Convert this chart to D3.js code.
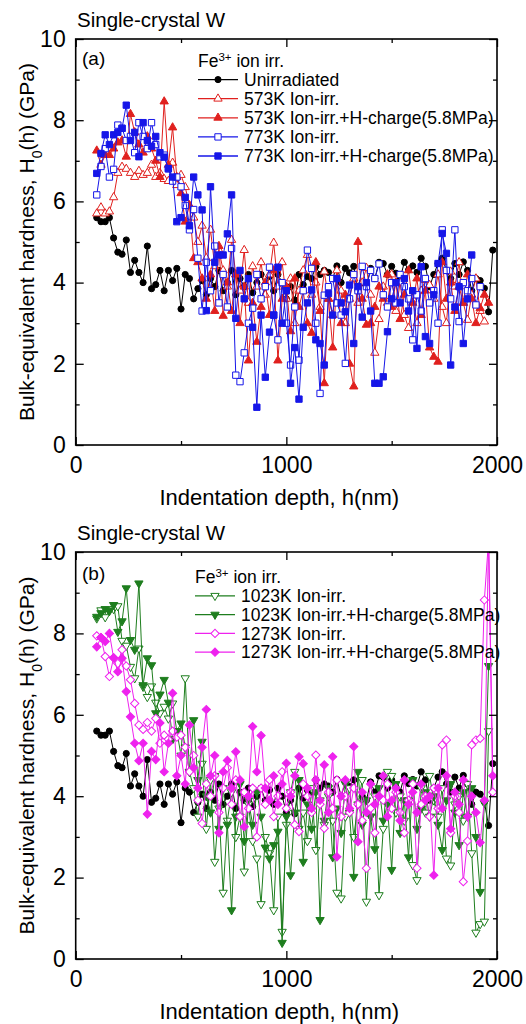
<!DOCTYPE html>
<html>
<head>
<meta charset="utf-8">
<script src="https://cdn.jsdelivr.net/npm/d3@7"></script>
<style>
  body { margin: 0; background: #fff; }
  svg { display: block; }
  text { font-family: "Liberation Sans", Arial, sans-serif; fill: #000; }
</style>
</head>
<body>
<div id="chart"></div>
<script>
// indentation depth (nm), shared by every series
const depth = [
  100, 120, 140, 160, 180, 200, 220, 240, 260, 280,
  300, 320, 340, 360, 380, 400, 420, 440, 460, 480,
  500, 520, 540, 560, 580, 600, 620, 640, 660, 680,
  700, 720, 740, 760, 780, 800, 820, 840, 860, 880,
  900, 920, 940, 960, 980, 1000, 1020, 1040, 1060, 1080,
  1100, 1120, 1140, 1160, 1180, 1200, 1220, 1240, 1260, 1280,
  1300, 1320, 1340, 1360, 1380, 1400, 1420, 1440, 1460, 1480,
  1500, 1520, 1540, 1560, 1580, 1600, 1620, 1640, 1660, 1680,
  1700, 1720, 1740, 1760, 1780, 1800, 1820, 1840, 1860, 1880,
  1900, 1920, 1940, 1960, 1980
];

// hardness H0(h) in GPa
const unirr = [
  5.6, 5.5, 5.5, 5.6, 5.1, 4.75, 4.7, 5.05, 4.25, 4.55,
  4.25, 4.0, 4.9, 3.85, 3.95, 4.3, 3.8, 4.3, 4.05, 4.35,
  3.35, 4.2, 4.1, 3.6, 3.85, 4.05, 3.7, 4.1, 3.9, 4.3,
  3.8, 4.0, 4.3, 3.7, 4.1, 3.9, 4.2, 3.75, 4.0, 4.2,
  3.9, 4.15, 3.8, 4.2, 4.0, 3.6, 3.9, 3.57, 4.2, 3.95,
  4.15, 4.1, 4.4, 4.2, 4.3, 4.25, 4.1, 4.41, 4.0, 4.35,
  4.24, 4.4, 3.8, 4.0, 3.9, 4.35, 4.1, 4.5, 4.47, 4.2,
  4.4, 4.23, 4.1, 4.5, 4.31, 4.41, 4.25, 4.6, 4.4, 3.9,
  4.2, 4.47, 4.6, 4.3, 4.1, 4.47, 4.2, 4.51, 4.3, 3.8,
  4.1, 4.05, 3.86, 3.28, 4.8
];
const irr573 = [
  5.7, 5.85, 5.7, 5.75, 6.1, 6.7, 6.85, 6.8, 6.7, 6.6,
  6.75, 6.65, 6.7, 6.9, 6.6, 6.7, 6.55, 6.5, 6.95, 6.4,
  6.65, 6.35, 5.9, 5.6, 5.0, 5.4, 4.6, 5.3, 4.4, 4.8,
  4.3, 3.9, 5.05, 4.2, 3.8, 4.8, 3.5, 4.4, 3.9, 4.5,
  3.7, 4.2, 4.98, 3.9, 4.5, 3.6, 4.1, 3.0, 3.8, 4.3,
  4.68, 3.7, 4.0, 3.4, 4.27, 3.6, 3.2, 4.3, 3.8, 3.0,
  3.6, 4.1, 3.5, 4.0, 4.36, 3.7, 2.27, 3.1, 3.9, 3.5,
  4.2, 3.3, 4.0, 3.2, 2.88, 3.6, 3.0, 3.8, 4.06, 3.94,
  3.6, 4.2, 3.4, 3.0, 4.27, 3.9, 4.5, 3.5, 3.08, 3.7,
  4.1, 3.3, 3.04
];
const irr573H = [
  7.25, 6.9, 7.14, 7.14, 7.3, 7.45, 7.5, 7.1, 8.15, 7.7,
  7.4, 7.2, 7.6, 7.3, 7.0, 6.6, 8.46, 6.9, 7.82, 6.6,
  6.2, 5.5, 5.9, 4.6, 4.5, 4.1, 3.6, 4.2, 3.3, 4.9,
  3.18, 4.0, 3.3, 4.2, 3.0, 3.9, 2.08, 3.5, 2.54, 3.4,
  4.0, 3.2, 4.3, 2.08, 3.6, 3.9, 2.8, 4.1, 3.4, 3.8,
  3.0, 2.76, 4.5, 3.3, 1.52, 3.6, 2.4, 4.1, 3.0, 3.7,
  2.0, 1.44, 5.0, 3.6, 2.96, 3.0, 3.4, 3.9, 3.6, 4.2,
  3.4, 4.0, 3.1, 3.7, 4.3, 3.5, 4.1, 3.2, 3.8, 2.4,
  2.17, 2.05, 4.5, 3.6, 4.0, 3.3, 3.9, 3.5, 4.2, 3.6,
  3.0, 3.37, 3.7, 3.5
];
const irr773 = [
  6.16, 6.86, 7.3, 6.6, 6.79, 7.88, 7.8, 7.5, 7.6, 7.2,
  7.94, 7.6, 7.3, 7.94, 7.4, 7.1, 7.14, 6.8, 6.5, 6.6,
  6.36, 5.9, 5.3, 5.8, 4.6, 3.3, 4.5, 3.8, 4.9, 3.5,
  4.2, 3.4, 4.84, 1.72, 1.56, 2.27, 3.0, 3.37, 4.2, 3.6,
  3.9, 4.38, 3.2, 2.59, 4.0, 3.0, 1.97, 3.4, 2.09, 3.8,
  4.8, 4.35, 3.0, 1.27, 3.69, 3.9, 4.1, 3.5, 3.2, 2.01,
  3.6, 4.2, 3.8, 4.4, 3.9, 4.3, 4.1, 4.46, 3.7, 3.4,
  4.0, 3.5, 4.2, 3.9, 3.6, 2.59, 3.7, 3.3, 4.1, 3.5,
  3.8, 3.0, 5.3, 4.3, 3.6, 5.3, 3.04, 4.0, 3.8, 4.1,
  3.45, 3.9
];
const irr773H = [
  6.69, 7.18, 7.64, 7.4, 7.64, 7.7, 7.8, 8.37, 7.5, 7.7,
  7.1, 7.94, 7.5, 7.36, 7.6, 7.2, 7.09, 6.81, 6.6, 5.5,
  5.6, 6.1, 5.4, 6.6, 6.16, 5.79, 3.31, 6.36, 4.5, 4.68,
  4.68, 5.2, 6.16, 3.12, 4.3, 3.6, 4.1, 2.9, 0.93, 3.2,
  1.67, 2.78, 3.2, 4.38, 3.0, 3.8, 1.52, 2.4, 1.13, 2.9,
  3.5, 3.82, 2.59, 2.5, 1.97, 3.73, 3.2, 4.1, 3.5, 3.28,
  3.94, 2.5, 3.9, 3.15, 4.0, 3.3, 1.52, 1.52, 1.68, 2.79,
  3.6, 4.0, 3.5, 4.1, 3.3, 3.8, 2.38, 4.39, 2.67, 2.5,
  3.7, 4.47, 5.21, 4.72, 1.97, 3.4, 3.9, 2.5, 3.6, 4.68
];
const irr1023 = [
  8.37, 8.57, 8.4, 8.57, 8.6, 8.67, 7.82, 7.7, 7.18, 6.9,
  7.63, 6.69, 6.44, 6.7, 6.3, 6.04, 6.2, 5.91, 6.28, 5.6,
  5.0, 6.9, 4.6, 4.2, 3.5, 4.8, 3.2, 4.4, 2.39, 3.7,
  1.63, 3.4, 4.1, 3.0, 3.5, 2.15, 3.8, 2.9, 2.47, 1.35,
  3.0, 2.6, 1.2, 3.5, 0.67, 3.3, 4.1, 4.6, 3.2, 3.6,
  2.9, 4.2, 2.68, 3.9, 3.3, 4.0, 3.4, 1.63, 1.49, 3.5,
  4.2, 3.0, 3.8, 4.4, 1.41, 3.5, 4.0, 1.57, 3.2, 4.6,
  4.5, 3.6, 4.0, 3.4, 3.9, 2.31, 1.94, 4.2, 3.6, 4.5,
  3.9, 3.5, 4.2, 2.47, 2.3, 3.8, 4.0, 3.4, 4.3, 2.6,
  0.65, 0.86, 0.92, 5.6
];
const irr1023H = [
  8.41, 8.5, 8.6, 8.55, 8.7, 8.04, 8.3, 9.11, 7.84, 7.6,
  9.23, 6.73, 7.39, 7.22, 6.04, 6.5, 6.86, 6.3, 5.4, 5.6,
  5.79, 5.2, 4.6, 5.87, 4.4, 5.34, 4.0, 3.6, 4.5, 3.2,
  4.2, 3.3, 1.2, 3.5, 4.3, 2.9, 3.9, 3.3, 4.1, 3.5,
  2.74, 2.47, 2.8, 3.13, 0.4, 3.5, 2.06, 3.6, 4.4, 2.39,
  3.8, 3.2, 4.1, 0.96, 3.4, 4.2, 2.5, 3.7, 3.1, 4.3,
  3.6, 2.02, 4.6, 3.3, 3.9, 3.5, 2.7, 4.2, 3.4, 3.8,
  2.19, 4.3, 3.1, 3.9, 2.5, 4.4, 3.2, 3.7, 4.1, 3.5,
  4.0, 3.3, 2.68, 3.9, 4.3, 3.6, 2.8, 4.1, 3.5, 4.2,
  3.0, 1.65, 3.83, 7.2
];
const irr1273 = [
  7.94, 7.9, 7.43, 6.94, 7.4, 7.26, 7.6, 7.2, 6.86, 6.28,
  5.75, 5.64, 5.81, 5.6, 5.91, 5.3, 5.5, 5.4, 5.6, 5.45,
  5.5, 5.2, 4.6, 5.0, 3.9, 3.33, 4.3, 4.0, 4.5, 3.6,
  4.2, 4.7, 3.8, 4.4, 3.5, 4.1, 3.7, 4.2, 3.0, 4.2,
  3.8, 4.4, 3.5, 4.0, 4.6, 3.7, 4.1, 3.3, 3.13, 4.3,
  4.0, 3.6, 5.01, 3.8, 3.21, 4.1, 3.7, 4.4, 3.5, 4.0,
  3.6, 4.2, 3.8, 3.4, 2.23, 3.7, 3.1, 4.0, 3.9, 4.3,
  3.7, 4.1, 3.6, 3.1, 3.9, 4.3, 2.23, 3.8, 4.0, 3.5,
  4.2, 3.7, 5.26, 5.38, 3.1, 4.0, 3.6, 1.9, 2.9, 5.26,
  5.38, 5.42, 8.82, 10.3, 4.1
];
const irr1273H = [
  7.67, 7.9, 7.8, 8.0, 7.4, 7.06, 7.39, 6.57, 5.95, 5.3,
  4.87, 5.3, 3.56, 5.1, 4.9, 5.8, 4.6, 5.3, 6.53, 4.5,
  5.0, 4.3, 5.75, 4.7, 4.2, 5.2, 6.13, 4.5, 5.0, 3.1,
  4.6, 4.88, 4.2, 5.09, 4.4, 3.25, 4.0, 5.71, 4.6, 5.49,
  4.2, 3.9, 4.5, 3.8, 4.3, 4.81, 4.0, 4.5, 4.97, 4.8,
  4.2, 3.7, 4.4, 3.9, 4.77, 3.6, 4.97, 2.51, 4.0, 4.4,
  3.7, 5.22, 2.88, 4.1, 3.6, 4.3, 3.8, 4.0, 4.5, 3.5,
  3.9, 4.2, 3.4, 4.4, 3.8, 4.1, 3.6, 4.3, 3.9, 4.0,
  2.06, 4.2, 3.7, 4.5, 3.2, 4.1, 3.8, 4.4, 3.5, 4.0,
  3.6, 2.86, 3.9, 10.5, 4.5
];

const xMajor = [0, 1000, 2000];
const xMinor = [500, 1500];
const yMajor = [0, 2, 4, 6, 8, 10];
const yMinor = [1, 3, 5, 7, 9];

const labelsA = ["Unirradiated", "573K Ion-irr.", "573K Ion-irr.+H-charge(5.8MPa)", "773K Ion-irr.", "773K Ion-irr.+H-charge(5.8MPa)"];
const labelsB = ["1023K Ion-irr.", "1023K Ion-irr.+H-charge(5.8MPa)", "1273K Ion-irr.", "1273K Ion-irr.+H-charge(5.8MPa)"];

// styles
const BLACK = "#000", RED = "#e0201e", BLUE = "#1616e8", GREEN = "#1e7e1e", MAG = "#ee22ee";

const seriesA = [
  { values: unirr, color: BLACK, shape: "circle", open: false },
  { values: irr573, color: RED, shape: "up", open: true },
  { values: irr573H, color: RED, shape: "up", open: false },
  { values: irr773, color: BLUE, shape: "square", open: true },
  { values: irr773H, color: BLUE, shape: "square", open: false }
];
const seriesB = [
  { values: unirr, color: BLACK, shape: "circle", open: false },
  { values: irr1023, color: GREEN, shape: "down", open: true },
  { values: irr1023H, color: GREEN, shape: "down", open: false },
  { values: irr1273, color: MAG, shape: "diamond", open: true },
  { values: irr1273H, color: MAG, shape: "diamond", open: false }
];

const svg = d3.select("#chart").append("svg")
  .attr("width", 526)
  .attr("height", 1024);

const x = d3.scaleLinear().domain([0, 2000]).range([75.7, 497]);

function symbolPath(shape) {
  if (shape === "circle") return d3.symbol(d3.symbolCircle, 30)();
  if (shape === "square") return d3.symbol(d3.symbolSquare, 40)();
  if (shape === "diamond") return d3.symbol(d3.symbolSquare, 34)();
  return d3.symbol(d3.symbolTriangle, 30)();
}
function symbolRot(shape) {
  if (shape === "down") return 180;
  if (shape === "diamond") return 45;
  return 0;
}

function drawMarker(g, s, px, py) {
  g.append("path")
    .attr("d", symbolPath(s.shape))
    .attr("transform", `translate(${px},${py}) rotate(${symbolRot(s.shape)})`)
    .attr("fill", s.open ? "#fff" : s.color)
    .attr("stroke", s.color)
    .attr("stroke-width", 1);
}

function drawPanel(p) {
  const y = d3.scaleLinear().domain([0, 10]).range([p.bottom, p.top]);
  const g = svg.append("g");

  g.append("clipPath").attr("id", "clip" + p.id)
    .append("rect")
    .attr("x", x(0)).attr("y", y(10))
    .attr("width", x(2000) - x(0)).attr("height", y(0) - y(10));

  const plot = g.append("g").attr("clip-path", `url(#clip${p.id})`);

  // series: line then markers
  p.series.forEach(function (s) {
    const pts = s.values.map((v, i) => [depth[i], v]);
    const line = d3.line().x(d => x(d[0])).y(d => y(d[1]));
    plot.append("path")
      .attr("d", line(pts))
      .attr("fill", "none")
      .attr("stroke", s.color)
      .attr("stroke-width", 1);
    const mg = plot.append("g");
    pts.forEach(d => drawMarker(mg, s, x(d[0]), y(d[1])));
  });

  // axes, ticks pointing inward
  const bottom = g.append("g").attr("transform", `translate(0,${p.bottom})`)
    .call(d3.axisBottom(x).tickValues(xMajor).tickFormat(d3.format("d"))
      .tickSizeInner(-8).tickSizeOuter(0).tickPadding(12));
  g.append("g").attr("transform", `translate(0,${p.bottom})`)
    .call(d3.axisBottom(x).tickValues(xMinor).tickSizeInner(-4).tickSizeOuter(0).tickFormat(""));
  g.append("g").attr("transform", `translate(0,${p.top})`)
    .call(d3.axisTop(x).tickValues(xMajor).tickSizeInner(-8).tickSizeOuter(0).tickFormat(""));
  g.append("g").attr("transform", `translate(0,${p.top})`)
    .call(d3.axisTop(x).tickValues(xMinor).tickSizeInner(-4).tickSizeOuter(0).tickFormat(""));

  const left = g.append("g").attr("transform", `translate(${x(0)},0)`)
    .call(d3.axisLeft(y).tickValues(yMajor).tickFormat(d3.format("d"))
      .tickSizeInner(-8).tickSizeOuter(0).tickPadding(10));
  g.append("g").attr("transform", `translate(${x(0)},0)`)
    .call(d3.axisLeft(y).tickValues(yMinor).tickSizeInner(-4).tickSizeOuter(0).tickFormat(""));
  g.append("g").attr("transform", `translate(${x(2000)},0)`)
    .call(d3.axisRight(y).tickValues(yMajor).tickSizeInner(-8).tickSizeOuter(0).tickFormat(""));
  g.append("g").attr("transform", `translate(${x(2000)},0)`)
    .call(d3.axisRight(y).tickValues(yMinor).tickSizeInner(-4).tickSizeOuter(0).tickFormat(""));

  g.selectAll(".domain").remove();
  g.selectAll(".tick line").attr("stroke", "#000").attr("stroke-width", 1.3);
  [bottom, left].forEach(a => a.selectAll("text")
    .style("font-family", '"Liberation Sans", Arial, sans-serif')
    .style("font-size", "23px")
    .attr("fill", "#000"));

  // frame
  g.append("rect")
    .attr("x", x(0)).attr("y", y(10))
    .attr("width", x(2000) - x(0)).attr("height", y(0) - y(10))
    .attr("fill", "none").attr("stroke", "#000").attr("stroke-width", 1.6);

  // titles
  g.append("text").attr("x", 77).attr("y", p.top - 12)
    .style("font-size", "20.5px").text("Single-crystal W");
  g.append("text").attr("x", x(1000) - 7).attr("y", p.bottom + 60)
    .attr("text-anchor", "middle").style("font-size", "22px")
    .text("Indentation depth, h(nm)");
  const yt = g.append("text")
    .attr("transform", `translate(34,${(p.top + p.bottom) / 2}) rotate(-90)`)
    .attr("text-anchor", "middle").style("font-size", "21px");
  yt.append("tspan").text("Bulk-equivalent hardness, H");
  yt.append("tspan").attr("baseline-shift", "sub").style("font-size", "14px").text("0");
  yt.append("tspan").text("(h) (GPa)");

  g.append("text").attr("x", 82).attr("y", p.panelY).attr("dy", "0.35em")
    .style("font-size", "19px").text(p.panelLabel);

  // legend
  const head = g.append("text").attr("x", p.legX).attr("y", p.legY).attr("dy", "0.35em")
    .style("font-size", "17.5px");
  head.append("tspan").text("Fe");
  head.append("tspan").attr("baseline-shift", "super").style("font-size", "11.5px").text("3+");
  head.append("tspan").text(" ion irr.");

  p.legendSeries.forEach(function (s, i) {
    const ly = p.legY + (i + 1) * p.legStep;
    g.append("line")
      .attr("x1", p.legX).attr("x2", p.legX + 40)
      .attr("y1", ly).attr("y2", ly)
      .attr("stroke", s.color).attr("stroke-width", 1.3);
    drawMarker(g, s, p.legX + 20, ly);
    g.append("text").attr("x", p.legX + 46).attr("y", ly).attr("dy", "0.35em")
      .style("font-size", "17.5px").text(p.labels[i]);
  });
}

drawPanel({
  id: "a", top: 39, bottom: 445, series: seriesA, legendSeries: seriesA,
  labels: labelsA, panelLabel: "(a)", panelY: 58,
  legX: 198, legY: 60.5, legStep: 19.1
});
drawPanel({
  id: "b", top: 552, bottom: 959, series: seriesB, legendSeries: seriesB.slice(1),
  labels: labelsB, panelLabel: "(b)", panelY: 573,
  legX: 195, legY: 577, legStep: 18.8
});
</script>
</body>
</html>
